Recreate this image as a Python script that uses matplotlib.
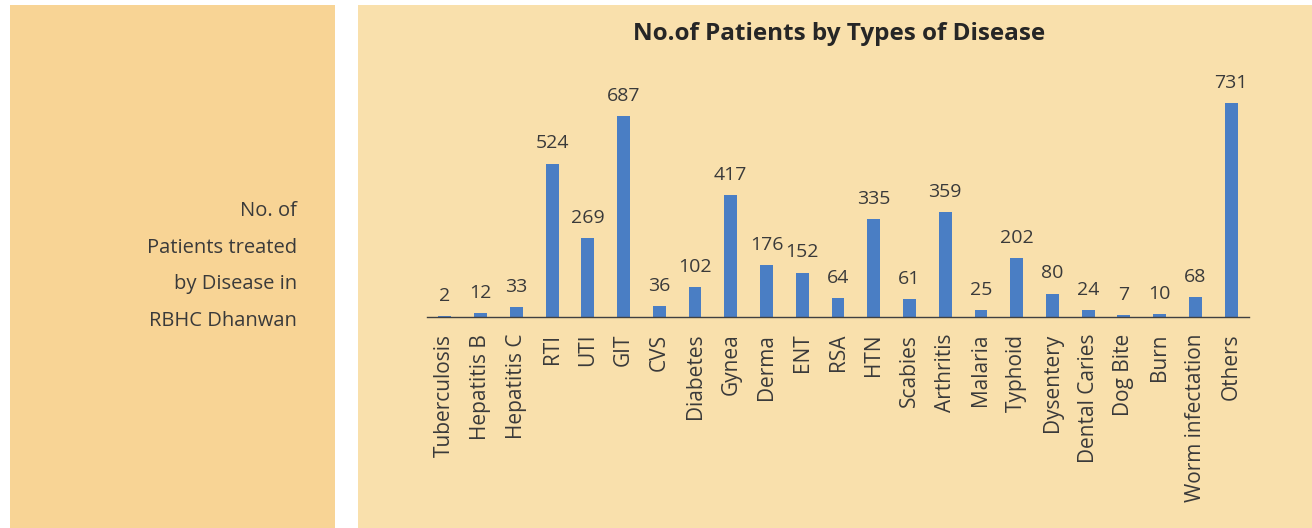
import matplotlib
matplotlib.use("Agg")
import matplotlib.pyplot as plt
from matplotlib.patches import Rectangle

categories = ["Tuberculosis", "Hepatitis B", "Hepatitis C", "RTI", "UTI", "GIT", "CVS",
              "Diabetes", "Gynea", "Derma", "ENT", "RSA", "HTN", "Scabies", "Arthritis",
              "Malaria", "Typhoid", "Dysentery", "Dental Caries", "Dog Bite", "Burn",
              "Worm infectation", "Others"]
patients = [2, 12, 33, 524, 269, 687, 36, 102, 417, 176, 152, 64, 335, 61, 359,
            25, 202, 80, 24, 7, 10, 68, 731]

title = "No.of Patients by Types of Disease"
side_text = "No. of\nPatients treated\nby Disease in\nRBHC Dhanwan"

W, H = 1312, 528
plt.rcParams['font.family'] = ['Open Sans', 'DejaVu Sans']
txt = "#3a3a3a"

fig = plt.figure(figsize=(W / 100, H / 100), dpi=100)
fig.patch.set_facecolor("white")

def px_rect(x0, y0, x1, y1, color):
    fig.patches.append(Rectangle((x0 / W, 1 - y1 / H), (x1 - x0) / W, (y1 - y0) / H,
                                 transform=fig.transFigure, facecolor=color,
                                 edgecolor="none", zorder=-10))

px_rect(10, 5, 335, 528, "#F8D495")
px_rect(358, 5, 1312, 528, "#F9E0AC")

fig.text(297 / W, 1 - 266 / H, side_text, ha="right", va="center", fontsize=14.5,
         color=txt, linespacing=2.12)

ax_left, ax_right = 427, 1249
ax_bottom = 317
ymax = 800
pxu = 214 / 731
ax_top = ax_bottom - ymax * pxu
ax = fig.add_axes([ax_left / W, 1 - ax_bottom / H, (ax_right - ax_left) / W,
                   (ax_bottom - ax_top) / H])
ax.set_zorder(5)
ax.set_facecolor("none")
x = list(range(len(categories)))
bars = ax.bar(x, patients, width=0.36, color="#4A7EC4", zorder=2)
for xi, v in zip(x, patients):
    ax.annotate(str(v), (xi, v), xytext=(0, 8), textcoords="offset points",
                ha="center", va="bottom", fontsize=14, color=txt)
ax.set_xlim(-0.5, len(categories) - 0.5)
ax.set_ylim(0, ymax)
ax.set_xticks(x)
ax.set_xticklabels(categories, rotation=90, fontsize=15, color=txt)
ax.tick_params(axis="x", length=0, pad=12)
ax.set_yticks([])
for s in ["top", "right", "left"]:
    ax.spines[s].set_visible(False)
ax.spines["bottom"].set_color("#404040")
ax.spines["bottom"].set_linewidth(1.0)

fig.text(839 / W, 1 - 34 / H, title, ha="center", va="center", fontsize=17.5,
         fontweight="bold", color="#262626")

fig.savefig("out.png", dpi=100)
